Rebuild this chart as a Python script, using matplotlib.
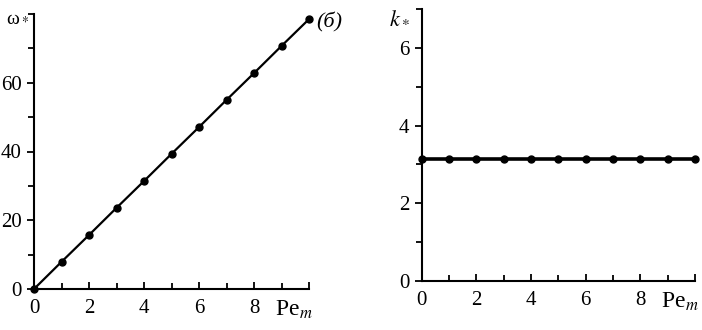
import matplotlib
matplotlib.use("Agg")
import matplotlib.pyplot as plt
from matplotlib.ticker import MultipleLocator, FixedLocator

pe = [0, 1, 2, 3, 4, 5, 6, 7, 8, 9, 10]
omega = [0.0, 7.9, 15.7, 23.6, 31.4, 39.3, 47.1, 55.0, 62.8, 70.7, 78.5]
k_star = [3.14] * 11
x_ticklabels = ["0", "2", "4", "6", "8"]

plt.rcParams['font.family'] = ['Liberation Serif', 'DejaVu Serif']
plt.rcParams['mathtext.fontset'] = 'stix'

fig = plt.figure(figsize=(7.02, 3.3), dpi=100)
ax1 = fig.add_axes([34/702, 41/330, 275/702, 275/330])
ax2 = fig.add_axes([421.7/702, 49/330, 273.3/702, 272/330])

def style(ax, ymax):
    ax.set_xlim(0, 10)
    ax.set_ylim(0, ymax)
    for s in ['top', 'right']:
        ax.spines[s].set_visible(False)
    for s in ['left', 'bottom']:
        ax.spines[s].set_linewidth(1.5)
    ax.xaxis.set_major_locator(FixedLocator([0, 2, 4, 6, 8, 10]))
    ax.set_xticklabels(x_ticklabels + [""])
    ax.xaxis.set_minor_locator(MultipleLocator(1))
    ax.tick_params(axis='x', which='both', direction='in', width=1.3, labelsize=15, pad=7)
    ax.tick_params(axis='x', which='major', length=5)
    ax.tick_params(axis='x', which='minor', length=4)
    ax.tick_params(axis='y', which='both', direction='out', width=1.3, labelsize=15, pad=4)
    ax.tick_params(axis='y', which='major', length=5)
    ax.tick_params(axis='y', which='minor', length=4)
    ax.text(9.45, -0.035 * ymax, r"Pe$_{\it m}$", fontsize=17, ha='center', va='top',
            transform=ax.transData)

style(ax1, 80)
ax1.set_yticks([0, 20, 40, 60])
ax1.set_yticklabels(["0", "20", "40", "60"])
ax1.yaxis.set_minor_locator(FixedLocator([10, 30, 50, 70, 80]))
ax1.plot(pe, omega, color='black', lw=1.6, marker='o', markersize=5, clip_on=False)
ax1.text(-1.0, 79, r"ω$_*$", fontsize=14, ha='left', va='center')
ax1.text(10.25, 77.5, "(б)", fontsize=16, style='italic', ha='left', va='center')

style(ax2, 7)
ax2.set_yticks([0, 2, 4, 6])
ax2.set_yticklabels(["0", "2", "4", "6"])
ax2.yaxis.set_minor_locator(FixedLocator([1, 3, 5, 7]))
ax2.plot(pe, k_star, color='black', lw=2.6, marker='o', markersize=5, clip_on=False)
ax2.text(-0.45, 6.75, r"$k_*$", fontsize=16, ha='right', va='center')

fig.savefig("out.png", dpi=100)
